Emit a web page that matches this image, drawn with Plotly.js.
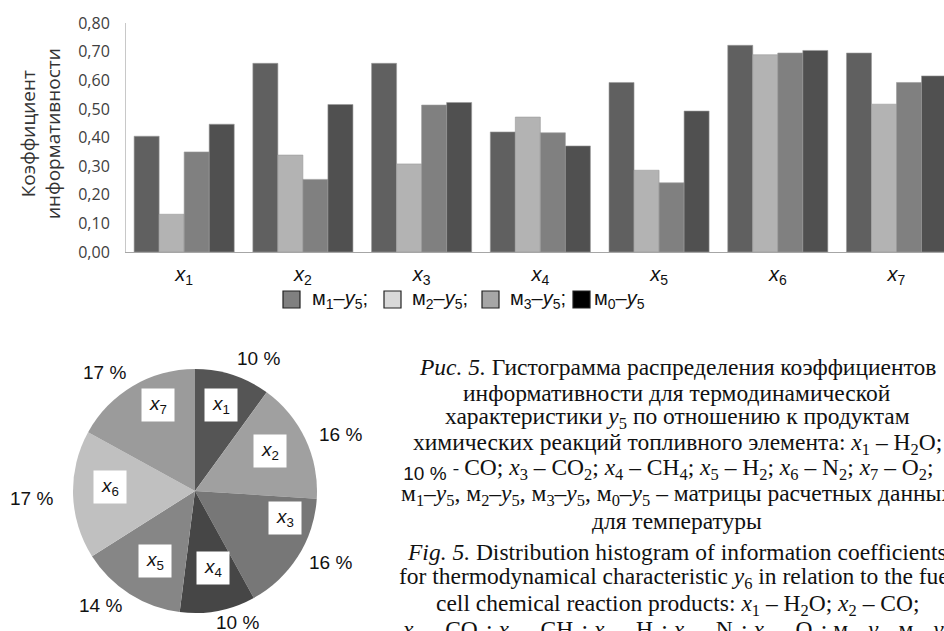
<!DOCTYPE html>
<html>
<head>
<meta charset="utf-8">
<script src="https://cdn.plot.ly/plotly-3.0.1.min.js"></script>
<style>html,body{margin:0;padding:0;background:#fff;}#chart{width:944px;height:631px;}</style>
</head>
<body>
<div id="chart"></div>
<script>
// ---- data ----
const categories = ['x1', 'x2', 'x3', 'x4', 'x5', 'x6', 'x7'];
const categoryText = ['<i>x</i><sub>1</sub>', '<i>x</i><sub>2</sub>', '<i>x</i><sub>3</sub>', '<i>x</i><sub>4</sub>', '<i>x</i><sub>5</sub>', '<i>x</i><sub>6</sub>', '<i>x</i><sub>7</sub>'];
const m1y5 = [0.405, 0.660, 0.660, 0.420, 0.593, 0.723, 0.696];
const m2y5 = [0.132, 0.339, 0.308, 0.472, 0.286, 0.690, 0.517];
const m3y5 = [0.350, 0.254, 0.514, 0.417, 0.242, 0.696, 0.593];
const m0y5 = [0.447, 0.516, 0.523, 0.371, 0.493, 0.705, 0.616];
const seriesNames = ['м<sub>1</sub>–<i>y</i><sub>5</sub>;', 'м<sub>2</sub>–<i>y</i><sub>5</sub>;', 'м<sub>3</sub>–<i>y</i><sub>5</sub>;', 'м<sub>0</sub>–<i>y</i><sub>5</sub>'];
const yTickVals = [0, 0.1, 0.2, 0.3, 0.4, 0.5, 0.6, 0.7, 0.8];
const yTickText = ['0,00', '0,10', '0,20', '0,30', '0,40', '0,50', '0,60', '0,70', '0,80'];
const yTitle = 'Коэффициент<br>информативности';
const pieValues = [10, 16, 16, 10, 14, 17, 17];
const captionLines = [
  '<i>Рис. 5.</i> Гистограмма распределения коэффициентов',
  'информативности для термодинамической',
  'характеристики <i>y</i><sub>5</sub> по отношению к продуктам',
  'химических реакций топливного элемента: <i>x</i><sub>1</sub> – H<sub>2</sub>O;',
  '<i>x</i><sub>2</sub> – CO; <i>x</i><sub>3</sub> – CO<sub>2</sub>; <i>x</i><sub>4</sub> – CH<sub>4</sub>; <i>x</i><sub>5</sub> – H<sub>2</sub>; <i>x</i><sub>6</sub> – N<sub>2</sub>; <i>x</i><sub>7</sub> – O<sub>2</sub>;',
  'м<sub>1</sub>–<i>y</i><sub>5</sub>, м<sub>2</sub>–<i>y</i><sub>5</sub>, м<sub>3</sub>–<i>y</i><sub>5</sub>, м<sub>0</sub>–<i>y</i><sub>5</sub> – матрицы расчетных данных',
  'для температуры',
  '',
  '<i>Fig. 5.</i> Distribution histogram of information coefficients',
  'for thermodynamical characteristic <i>y</i><sub>6</sub> in relation to the fuel',
  'cell chemical reaction products: <i>x</i><sub>1</sub> – H<sub>2</sub>O; <i>x</i><sub>2</sub> – CO;',
  '<i>x</i><sub>3</sub> – CO<sub>2</sub>; <i>x</i><sub>4</sub> – CH<sub>4</sub>; <i>x</i><sub>5</sub> – H<sub>2</sub>; <i>x</i><sub>6</sub> – N<sub>2</sub>; <i>x</i><sub>7</sub> – O<sub>2</sub>; м<sub>1</sub>–<i>y</i><sub>5</sub>, м<sub>2</sub>–<i>y</i><sub>5</sub>'
];

// ---- styles / layout positions ----
const W = 944, H = 631;
const px = x => x / W;
const py = y => 1 - y / H;
const barColors = ['#606060', '#b3b3b3', '#808080', '#505050'];
const legendColors = ['#808080', '#d9d9d9', '#a6a6a6', '#000000'];
const pieColors = ['#555555', '#a0a0a0', '#777777', '#464646', '#868686', '#c0c0c0', '#9b9b9b'];
const pieOuterPos = [[258, 358], [340, 435], [330, 562], [237, 622], [100, 605], [31, 498], [104, 372]];
const pieInnerPos = [[221, 405], [270, 451], [285, 518], [213, 568], [155, 561], [110, 487], [158, 405]];
const legendSquareX = [283, 384, 482, 573];
const legendTextX = [310, 410, 508, 592];
const sans = 'Liberation Sans, Arial, sans-serif';
const serif = 'Liberation Serif, Times New Roman, serif';

const series = [m1y5, m2y5, m3y5, m0y5];
const traces = series.map((vals, i) => ({
  type: 'bar',
  x: categories,
  y: vals,
  name: seriesNames[i],
  marker: { color: barColors[i], line: { color: '#9a9a9a', width: 0.6 } },
  hoverinfo: 'none',
  showlegend: false
}));

traces.push({
  type: 'pie',
  values: pieValues,
  labels: categories,
  sort: false,
  direction: 'clockwise',
  rotation: 0,
  textinfo: 'none',
  hoverinfo: 'none',
  showlegend: false,
  marker: { colors: pieColors, line: { width: 0 } },
  domain: { x: [px(73), px(317)], y: [py(613), py(369)] }
});

const annotations = [];
const shapes = [];

// y-axis title
annotations.push({
  xref: 'paper', yref: 'paper', x: px(41), y: py(134),
  text: yTitle, showarrow: false, textangle: -90,
  font: { family: 'Open Sans, sans-serif', size: 19, color: '#333' },
  xanchor: 'center', yanchor: 'middle', align: 'center'
});

// custom legend
seriesNames.forEach((name, i) => {
  shapes.push({
    type: 'rect', xref: 'paper', yref: 'paper',
    x0: px(legendSquareX[i]), x1: px(legendSquareX[i] + 17),
    y0: py(308), y1: py(291),
    fillcolor: legendColors[i], line: { color: '#222', width: 1.2 }
  });
  annotations.push({
    xref: 'paper', yref: 'paper', x: px(legendTextX[i]), y: py(299),
    text: name, showarrow: false, xanchor: 'left', yanchor: 'middle',
    font: { family: sans, size: 20, color: '#111' }
  });
});

// pie labels
const total = pieValues.reduce((a, b) => a + b, 0);
pieValues.forEach((v, i) => {
  annotations.push({
    xref: 'paper', yref: 'paper', x: px(pieOuterPos[i][0]), y: py(pieOuterPos[i][1]),
    text: Math.round(v / total * 100) + ' %', showarrow: false,
    xanchor: 'center', yanchor: 'middle',
    font: { family: sans, size: 19, color: '#111' }
  });
  annotations.push({
    xref: 'paper', yref: 'paper', x: px(pieInnerPos[i][0]), y: py(pieInnerPos[i][1]),
    text: categoryText[i], showarrow: false,
    xanchor: 'center', yanchor: 'middle',
    bgcolor: '#ffffff', borderpad: 4, width: 24, height: 24,
    font: { family: sans, size: 19, color: '#111' }
  });
});

// caption
const capY0 = 367, capStep = 25.6;
captionLines.forEach((line, i) => {
  if (!line) return;
  let y = capY0 + i * capStep;
  if (i >= 8) y = 552 + (i - 8) * 26.3;
  annotations.push({
    xref: 'paper', yref: 'paper', x: px(677), y: py(y),
    text: line, showarrow: false, xanchor: 'center', yanchor: 'middle',
    font: { family: serif, size: 23.5, color: '#111' }
  });
});

// stray pie label over the caption
annotations.push({
  xref: 'paper', yref: 'paper', x: px(425), y: py(473),
  text: pieValues[0] + ' %', showarrow: false, xanchor: 'center', yanchor: 'middle',
  bgcolor: '#ffffff', borderpad: 2, width: 52,
  font: { family: sans, size: 19, color: '#111' }
});

const layout = {
  width: W, height: H,
  margin: { l: 0, r: 0, t: 0, b: 0 },
  paper_bgcolor: '#ffffff', plot_bgcolor: '#ffffff',
  barmode: 'group', bargap: 0.157, bargroupgap: 0,
  xaxis: {
    domain: [px(126), 1],
    type: 'category',
    range: [-0.49, 6.40],
    tickvals: categories, ticktext: categoryText,
    ticks: 'outside', ticklen: 4, tickcolor: 'rgba(0,0,0,0)',
    tickfont: { family: sans, size: 20, color: '#111' },
    showline: true, linecolor: '#a6a6a6', linewidth: 1.2,
    showgrid: false, zeroline: false, fixedrange: true
  },
  yaxis: {
    domain: [py(252), py(23.3)],
    range: [0, 0.8],
    tickvals: yTickVals, ticktext: yTickText,
    tickfont: { family: 'Open Sans, sans-serif', size: 16, color: '#404040' },
    ticks: 'outside', ticklen: 12, tickcolor: 'rgba(0,0,0,0)',
    showline: true, linecolor: '#c8c8c8', linewidth: 1,
    showgrid: false, zeroline: false, fixedrange: true
  },
  annotations: annotations,
  shapes: shapes
};

Plotly.newPlot('chart', traces, layout, { displayModeBar: false, staticPlot: true });
</script>
</body>
</html>
